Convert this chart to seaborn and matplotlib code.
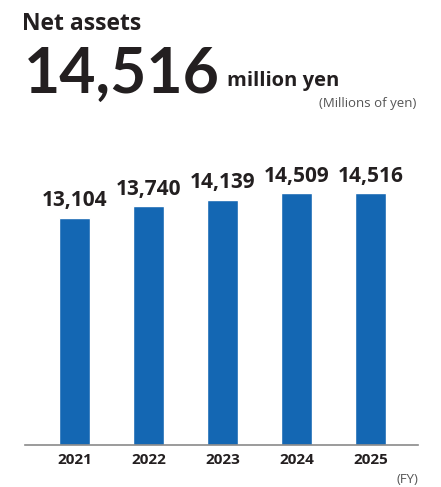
import matplotlib
matplotlib.use("Agg")
import matplotlib.pyplot as plt
import seaborn as sns
import pandas as pd

years = ["2021", "2022", "2023", "2024", "2025"]
net_assets = [13104, 13740, 14139, 14509, 14516]
headline_value = "14,516"

sns.set_theme(style="white")
plt.rcParams["font.family"] = ["Open Sans", "DejaVu Sans"]

TEXT = "#231f20"
BLUE = "#1467b3"

df = pd.DataFrame({"year": years, "value": net_assets})

fig = plt.figure(figsize=(4.41, 4.87), dpi=100)
ax = fig.add_axes([25 / 441, 1 - 445 / 487, 393 / 441, 312.5 / 487])

sns.barplot(data=df, x="year", y="value", color=BLUE, width=0.42,
            saturation=1, ax=ax)

ax.set_xlim(-0.67, 4.64)
ax.set_ylim(0, 18000)

for i, v in enumerate(net_assets):
    ax.annotate(f"{v:,}", (i, v), xytext=(0, 4.5), textcoords="offset points",
                ha="center", va="bottom", fontsize=15, fontweight="bold",
                color=TEXT)

for s in ["top", "left", "right"]:
    ax.spines[s].set_visible(False)
ax.spines["bottom"].set_color("#8a8a8a")
ax.spines["bottom"].set_linewidth(1.2)
ax.set_yticks([])
ax.set_xlabel("")
ax.set_ylabel("")
ax.tick_params(axis="x", length=0, pad=6)
for lbl in ax.get_xticklabels():
    lbl.set_fontsize(11)
    lbl.set_fontweight("bold")
    lbl.set_color(TEXT)

# header block
fig.text(22 / 441, 1 - 30 / 487, "Net assets", fontsize=16.5, fontweight="bold",
         color=TEXT, ha="left", va="baseline")
fig.text(24 / 441, 1 - 93 / 487, headline_value, fontsize=45,
         fontweight="bold", family=["Lato", "DejaVu Sans"], color=TEXT,
         ha="left", va="baseline")
fig.text(227 / 441, 1 - 86 / 487, "million yen", fontsize=14.5,
         fontweight="bold", color=TEXT, ha="left", va="baseline")
fig.text(416 / 441, 1 - 107 / 487, "(Millions of yen)", fontsize=9.5,
         color="#555555", ha="right", va="baseline")
fig.text(418 / 441, 1 - 483 / 487, "(FY)", fontsize=9.5, color="#555555",
         ha="right", va="baseline")

fig.savefig("out.png", dpi=100)
